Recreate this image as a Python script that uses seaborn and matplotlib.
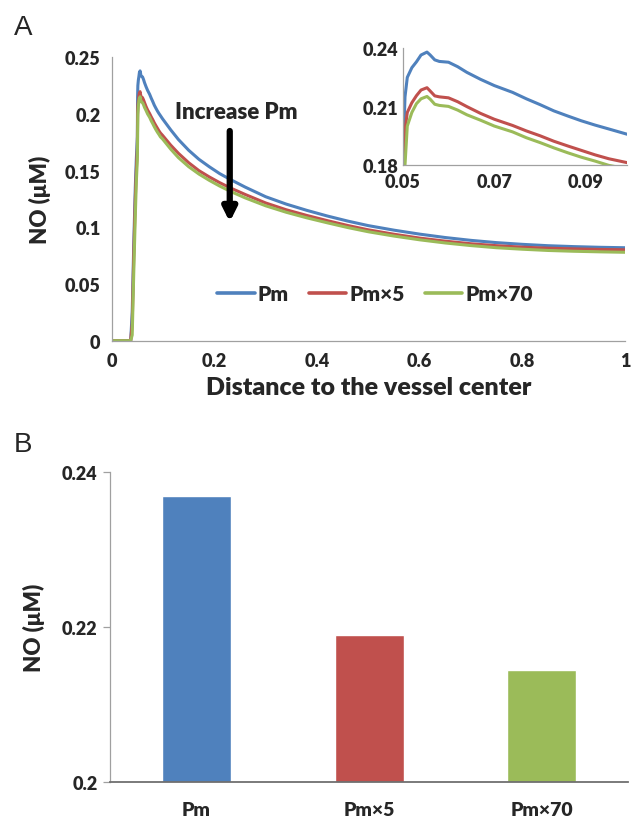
import numpy as np
import pandas as pd
import matplotlib
matplotlib.use("Agg")
import matplotlib.pyplot as plt
from matplotlib.ticker import FuncFormatter, FixedLocator
import seaborn as sns

# ---------------- data ----------------
series_names = ["Pm", "Pm×5", "Pm×70"]
colors = ["#4F81BD", "#C0504D", "#9BBB59"]

# distance to the vessel center (normalised)
distance = [0.0, 0.037, 0.040, 0.043, 0.046, 0.048,
            0.050, 0.0505, 0.051, 0.052, 0.053, 0.054, 0.0553, 0.056, 0.057,
            0.058, 0.060, 0.062, 0.064, 0.067, 0.070, 0.074, 0.077, 0.080,
            0.083, 0.086, 0.089, 0.092, 0.095, 0.099,
            0.115, 0.13, 0.15, 0.17, 0.19, 0.21, 0.23, 0.26, 0.30, 0.34, 0.38,
            0.42, 0.46, 0.50, 0.55, 0.60, 0.65, 0.70, 0.75, 0.80, 0.85, 0.90,
            0.95, 1.00]

no_pm = [0.0, 0.0, 0.025, 0.085, 0.135, 0.160,
         0.180, 0.215, 0.225, 0.230, 0.233, 0.2365, 0.238, 0.2365, 0.234,
         0.2332, 0.2328, 0.2305, 0.2276, 0.2240, 0.2208, 0.2173, 0.2140, 0.2110,
         0.2078, 0.2052, 0.2027, 0.2005, 0.1985, 0.1958,
         0.186, 0.1775, 0.168, 0.160, 0.1535, 0.1475, 0.1425, 0.1355, 0.127,
         0.1205, 0.1150, 0.1100, 0.1055, 0.1015, 0.0975, 0.0940, 0.0910, 0.0885,
         0.0865, 0.0850, 0.0838, 0.0830, 0.0824, 0.0820]

no_pm5 = [0.0, 0.0, 0.015, 0.075, 0.125, 0.150,
          0.170, 0.198, 0.207, 0.212, 0.2156, 0.2185, 0.2197, 0.218, 0.2155,
          0.2150, 0.2145, 0.2125, 0.2100, 0.2065, 0.2035, 0.2003, 0.1975, 0.1950,
          0.1922, 0.1898, 0.1875, 0.1852, 0.1832, 0.1812,
          0.1725, 0.1653, 0.157, 0.150, 0.1445, 0.1395, 0.135, 0.129, 0.1215,
          0.1155, 0.1105, 0.1059, 0.1016, 0.0978, 0.0939, 0.0905, 0.0878, 0.0855,
          0.0838, 0.0825, 0.0816, 0.0810, 0.0805, 0.0802]

no_pm70 = [0.0, 0.0, 0.005, 0.060, 0.110, 0.140,
           0.160, 0.180, 0.200, 0.207, 0.2115, 0.2140, 0.2152, 0.2138, 0.2112,
           0.2106, 0.2101, 0.2082, 0.2058, 0.2030, 0.2000, 0.1970, 0.1940, 0.1915,
           0.1888, 0.1863, 0.1840, 0.1820, 0.1798, 0.1780,
           0.169, 0.1615, 0.1535, 0.147, 0.1415, 0.1365, 0.132, 0.126, 0.119,
           0.1133, 0.1084, 0.104, 0.0998, 0.0961, 0.0923, 0.089, 0.0862, 0.0839,
           0.082, 0.0807, 0.0796, 0.0789, 0.0784, 0.078]

# peak NO concentration per condition
peak_no = [0.2369, 0.2189, 0.2144]

profiles = pd.DataFrame({
    "distance": distance * 3,
    "NO": no_pm + no_pm5 + no_pm70,
    "series": sum([[n] * len(distance) for n in series_names], []),
})
peaks = pd.DataFrame({"series": series_names, "NO": peak_no})

# ---------------- style ----------------
sns.set_style("white")
plt.rcParams["font.family"] = ["Lato", "DejaVu Sans"]
plt.rcParams["font.weight"] = "bold"

palette = dict(zip(series_names, colors))
fmt = FuncFormatter(lambda v, p: f"{v:g}")
TICK_W = "heavy"

fig = plt.figure(figsize=(6.32, 8.2), dpi=100)

# ---------------- panel A ----------------
ax = fig.add_axes([0.1767, 0.5833, 0.8123, 0.3456])
sns.lineplot(data=profiles, x="distance", y="NO", hue="series", palette=palette,
             linewidth=2.2, ax=ax, legend=True, sort=False)
ax.set_xlim(0, 1)
ax.set_ylim(0, 0.25)
ax.set_xticks([0, 0.2, 0.4, 0.6, 0.8, 1.0])
ax.set_yticks([0, 0.05, 0.1, 0.15, 0.2, 0.25])
ax.xaxis.set_major_formatter(fmt)
ax.yaxis.set_major_formatter(fmt)
ax.tick_params(length=0, labelsize=13, pad=8)
for lab in ax.get_xticklabels() + ax.get_yticklabels():
    lab.set_fontweight(TICK_W)
for s in ["top", "right"]:
    ax.spines[s].set_visible(False)
for s in ["left", "bottom"]:
    ax.spines[s].set_color("#a0a0a0")
    ax.spines[s].set_linewidth(0.9)
ax.set_xlabel("Distance to the vessel center", fontsize=18, fontweight=TICK_W, labelpad=5)
ax.set_ylabel("NO (μM)", fontsize=16, fontweight=TICK_W, labelpad=10)

leg = ax.legend(loc="center", bbox_to_anchor=(0.513, 0.165), ncol=3, frameon=False,
                handlelength=1.8, handletextpad=0.15, columnspacing=0.95,
                prop={"size": 15, "weight": TICK_W})
for h in leg.get_lines():
    h.set_linewidth(2.6)

ax.text(0.243, 0.2026, "Increase Pm", ha="center", va="center",
        fontsize=16, fontweight=TICK_W)
ax.annotate("", xy=(0.230, 0.1047), xytext=(0.230, 0.185),
            arrowprops=dict(arrowstyle="-|>,head_length=0.8,head_width=0.4",
                            lw=4.5, color="black", shrinkA=0, shrinkB=0))

# inset: zoom on the peak
axi = fig.add_axes([0.6372, 0.7976, 0.355, 0.1424])
sns.lineplot(data=profiles, x="distance", y="NO", hue="series", palette=palette,
             linewidth=2.2, ax=axi, legend=False, sort=False)
axi.set_xlim(0.05, 0.099)
axi.set_ylim(0.18, 0.24)
axi.set_xticks([0.05, 0.07, 0.09])
axi.set_yticks([0.18, 0.21, 0.24])
axi.xaxis.set_major_formatter(fmt)
axi.yaxis.set_major_formatter(fmt)
axi.tick_params(axis="x", length=0, labelsize=13, pad=6)
axi.tick_params(axis="y", length=0, labelsize=13, pad=3)
for lab in axi.get_xticklabels() + axi.get_yticklabels():
    lab.set_fontweight(TICK_W)
axi.set_xlabel("")
axi.set_ylabel("")
axi.patch.set_alpha(0)
for s in ["top", "right"]:
    axi.spines[s].set_visible(False)
for s in ["left", "bottom"]:
    axi.spines[s].set_color("#a0a0a0")
    axi.spines[s].set_linewidth(0.9)

fig.text(0.036, 0.966, "A", fontsize=20, fontweight="normal",
         family=["Liberation Sans", "DejaVu Sans"], ha="center", va="center")

# ---------------- panel B ----------------
axb = fig.add_axes([0.174, 0.0455, 0.820, 0.378])
sns.barplot(data=peaks, x="series", y="NO", hue="series", palette=palette,
            width=0.4, ax=axb, legend=False, saturation=1)
axb.set_xlim(-0.5, 2.5)
axb.set_ylim(0.2, 0.24)
axb.set_yticks([0.2, 0.22, 0.24])
axb.yaxis.set_major_formatter(fmt)
axb.xaxis.set_minor_locator(FixedLocator([-0.5, 0.5, 1.5, 2.5]))
axb.tick_params(axis="x", which="major", length=0, labelsize=14, pad=14)
axb.tick_params(axis="x", which="minor", length=7, width=0.9, color="#808080", direction="out")
axb.tick_params(axis="y", length=5, width=0.9, color="#a0a0a0", labelsize=13, pad=4, left=True)
for lab in axb.get_xticklabels() + axb.get_yticklabels():
    lab.set_fontweight(TICK_W)
for s in ["top", "right"]:
    axb.spines[s].set_visible(False)
axb.spines["left"].set_color("#a0a0a0")
axb.spines["left"].set_linewidth(0.9)
axb.spines["bottom"].set_color("#707070")
axb.spines["bottom"].set_linewidth(1.3)
axb.set_xlabel("")
axb.set_ylabel("NO (μM)", fontsize=16, fontweight=TICK_W, labelpad=12)

fig.text(0.036, 0.457, "B", fontsize=20, fontweight="normal",
         family=["Liberation Sans", "DejaVu Sans"], ha="center", va="center")

fig.savefig("out.png", dpi=100)
